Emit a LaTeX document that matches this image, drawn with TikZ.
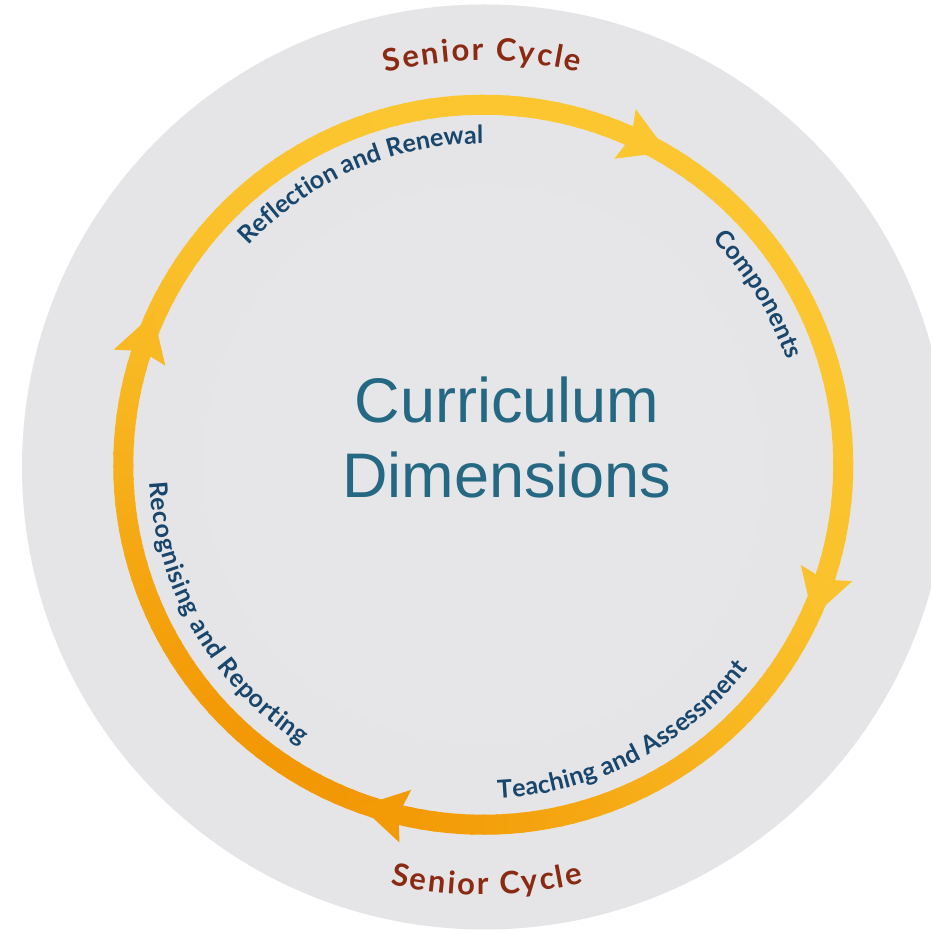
\documentclass[tikz,border=0pt]{standalone}
\usepackage{fontspec}
\setmainfont{Liberation Sans}
\newfontfamily\latofont{Lato}
\usetikzlibrary{decorations.text,calc}
\definecolor{bggrey}{RGB}{229,229,231}
\definecolor{innergrey}{RGB}{230,230,232}
\definecolor{ringyellow}{RGB}{251,198,48}
\definecolor{ringorange}{RGB}{242,152,4}
\definecolor{navytext}{RGB}{24,70,108}
\definecolor{redtext}{RGB}{139,42,18}
\definecolor{centretext}{RGB}{36,104,132}
\begin{document}
\begin{tikzpicture}[x=1pt,y=1pt,
  ringlabel/.style={decorate,decoration={text along path,text align=fit to path,
     text={|\latofont\bfseries\fontsize{25}{25}\selectfont\color{navytext}|#1}}},
  cyclelabel/.style={decorate,decoration={text along path,text align=fit to path,
     text={|\latofont\bfseries\fontsize{31}{31}\selectfont\color{redtext}|#1}}},
  centrelabel/.style={anchor=base,inner sep=0pt,text=centretext,font=\fontsize{63}{63}\selectfont}]
\useasboundingbox (0,0) rectangle (931,933);
\clip (0,0) rectangle (931,933);
\fill[white] (0,0) rectangle (931,933);
\coordinate (O) at (483.25,468.25);
\coordinate (G) at (484.5,466);
% background disks
\fill[bggrey] (G) circle[radius=462.5];
\fill[innergrey] (O) circle[radius=280];
% ring with gradient
\foreach \a in {0,2,...,358}{
  \pgfmathsetmacro\t{100*((1+cos(\a+1-240))/2)^2.5}
  \colorlet{segc}{ringorange!\t!ringyellow}
  \draw[segc,line width=20pt] ([shift={(\a:360)}]O) arc[start angle=\a,end angle=\a+2.5,radius=360];
}
% arrowheads (clockwise)
\foreach \a in {66.8,-17.5,-102.5,162.7}{
  \pgfmathsetmacro\t{100*((1+cos(\a-240))/2)^2.5}
  \colorlet{segc}{ringorange!\t!ringyellow}
  \begin{scope}[shift={($(O)+(\a:360)$)},rotate=\a-90]
    \fill[segc] (46,0) -- (0,27) -- (7,0) -- (0,-27) -- cycle;
  \end{scope}
}
% outer labels
\path[cyclelabel={Senior Cycle}] ([shift={(104:404)}]O) arc[start angle=104,end angle=76.3,radius=404];
\path[cyclelabel={Senior Cycle}] ([shift={(-102.5:430)}]O) arc[start angle=-102.5,end angle=-76.5,radius=430];
% ring labels
\path[ringlabel={Reflection and Renewal}] ([shift={(137:321)}]O) arc[start angle=137,end angle=90,radius=321];
\path[ringlabel={Components}] ([shift={(44.5:321)}]O) arc[start angle=44.5,end angle=19,radius=321];
\path[ringlabel={Teaching and Assessment}] ([shift={(-87.5:334)}]O) arc[start angle=-87.5,end angle=-37.5,radius=334];
\path[ringlabel={Recognising and Reporting}] ([shift={(183:334)}]O) arc[start angle=183,end angle=237,radius=334];
% centre
\node[centrelabel] (curr) at (507,510) {Curriculum};
\node[centrelabel] (dims) at (507,435.4) {Dimensions};
\end{tikzpicture}
\end{document}
